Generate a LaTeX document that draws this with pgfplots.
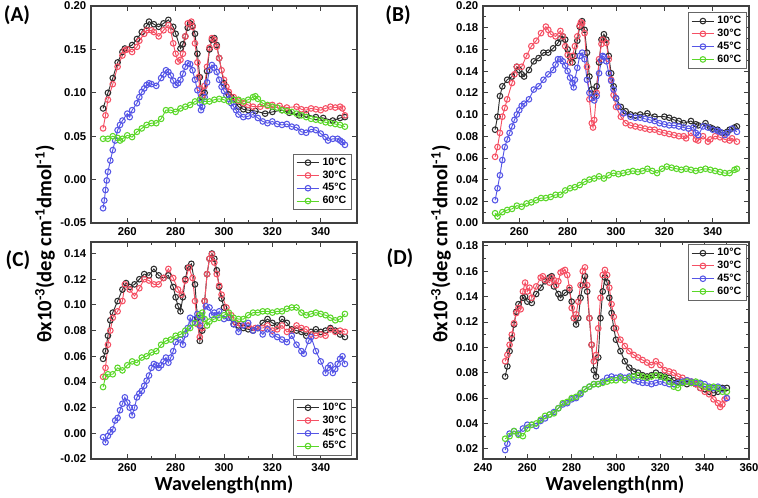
\documentclass[border=0pt]{standalone}
\usepackage{fontspec}
\setmainfont{Liberation Sans}
\newfontfamily\carlito{Carlito}
\usepackage{pgfplots}
\pgfplotsset{compat=1.18}
\definecolor{cK}{RGB}{45,45,45}
\definecolor{cR}{RGB}{245,80,100}
\definecolor{cB}{RGB}{85,85,230}
\definecolor{cG}{RGB}{90,215,40}
\pgfplotsset{
  panel/.style={
    scale only axis, width=199.5pt, height=162.75pt, anchor=south west,
    axis line style={draw=black!75, line width=0.8pt},
    tick style={black!75, line width=0.6pt},
    tick align=inside, tick pos=both,
    major tick length=3.5pt, minor tick length=2pt,
    minor x tick num=1, minor y tick num=1,
    ticklabel style={font=\fontsize{8.5}{10}\selectfont\bfseries},
    /pgf/number format/assume math mode=true,
    scaled y ticks=false,
    y tick label style={/pgf/number format/fixed, /pgf/number format/fixed zerofill, /pgf/number format/precision=2},
    xmin=245, xmax=355, xtick={260,280,...,340},
    legend style={draw=black!60, fill=white, font=\fontsize{8}{9}\selectfont\bfseries,
      inner xsep=2pt, inner ysep=1pt, row sep=-1.5pt, cells={anchor=west}},
    every axis plot/.append style={line width=0.7pt, mark=o, mark size=2.1pt, mark options={line width=0.8pt, solid}},
  }
}
\begin{document}
\begin{tikzpicture}
\path[use as bounding box] (0,0) rectangle (568.5pt,372.75pt);
% ---------------- (A)
\begin{axis}[panel, at={(68.25pt,205.5pt)}, ymin=-0.05, ymax=0.20, ytick={-0.05,0,0.05,...,0.21},
  legend style={at={(0.981,0.06)}, anchor=south east}]
\addplot[cK] coordinates {(250,0.082)(252,0.100)(254,0.117)(256,0.135)(258,0.147)(259,0.151)(262,0.155)(264,0.162)(266,0.170)(268,0.177)(269,0.182)(271,0.179)(273,0.176)(275,0.180)(277,0.184)(279,0.176)(280,0.168)(282,0.151)(283,0.156)(284,0.165)(285,0.175)(286,0.180)(287,0.177)(288,0.168)(289,0.145)(290,0.118)(291,0.095)(292,0.100)(293,0.125)(294,0.150)(295,0.161)(296,0.163)(297,0.155)(298,0.140)(300,0.111)(302,0.098)(303,0.095)(306,0.084)(308,0.081)(310,0.080)(313,0.079)(317,0.076)(320,0.078)(324,0.080)(327,0.077)(331,0.074)(334,0.075)(338,0.072)(341,0.071)(345,0.068)(348,0.071)(350,0.072)};
\addlegendentry{10°C}
\addplot[cR] coordinates {(250,0.059)(251,0.074)(252,0.092)(254,0.110)(256,0.130)(258,0.143)(259,0.149)(260,0.150)(262,0.147)(264,0.153)(265,0.160)(267,0.168)(268,0.172)(270,0.172)(271,0.170)(273,0.165)(275,0.172)(277,0.178)(278,0.172)(279,0.157)(280,0.145)(281,0.136)(282,0.138)(283,0.145)(284,0.165)(285,0.180)(286.5,0.182)(287,0.176)(288,0.157)(289,0.135)(289.5,0.118)(290,0.105)(291,0.097)(292,0.108)(293,0.130)(294,0.152)(295,0.163)(296,0.161)(297,0.153)(298,0.140)(299,0.126)(300,0.115)(301,0.107)(302,0.101)(304,0.095)(306,0.091)(308,0.088)(310,0.086)(312,0.084)(315,0.084)(318,0.085)(320,0.086)(323,0.085)(326,0.083)(330,0.084)(332,0.081)(334,0.080)(336,0.082)(338,0.081)(340,0.080)(342,0.082)(344,0.084)(346,0.083)(348,0.084)(349,0.082)(350,0.074)};
\addlegendentry{30°C}
\addplot[cB] coordinates {(250,-0.033)(250.5,-0.024)(251,-0.012)(251.5,-0.001)(252,0.009)(253,0.022)(254,0.034)(255,0.045)(256,0.057)(257,0.063)(258,0.068)(260,0.076)(261,0.072)(262,0.080)(264,0.088)(265,0.095)(266,0.101)(267,0.105)(268,0.109)(269,0.111)(270,0.110)(272,0.108)(274,0.117)(275,0.121)(276,0.126)(277,0.124)(278,0.120)(279,0.114)(280,0.109)(281,0.111)(282,0.115)(283,0.122)(284,0.130)(285,0.134)(286,0.133)(287,0.126)(288,0.115)(289,0.103)(290,0.088)(290.5,0.080)(291,0.084)(292,0.095)(293,0.112)(294,0.126)(295,0.132)(296,0.129)(297,0.124)(298,0.115)(299,0.107)(300,0.102)(301,0.097)(302,0.093)(303,0.088)(304,0.084)(305,0.080)(306,0.075)(308,0.072)(310,0.073)(312,0.075)(314,0.071)(316,0.067)(318,0.065)(320,0.067)(322,0.064)(324,0.063)(326,0.064)(328,0.061)(330,0.060)(332,0.055)(334,0.054)(336,0.058)(338,0.057)(340,0.053)(342,0.049)(343,0.045)(345,0.047)(347,0.047)(348,0.045)(349,0.043)(350,0.040)};
\addlegendentry{45°C}
\addplot[cG] coordinates {(250,0.047)(252,0.047)(254,0.050)(256,0.048)(257,0.045)(258,0.047)(260,0.051)(262,0.049)(264,0.055)(266,0.059)(268,0.063)(270,0.065)(272,0.065)(274,0.070)(276,0.080)(278,0.080)(280,0.078)(282,0.082)(284,0.084)(286,0.086)(288,0.090)(290,0.092)(292,0.090)(294,0.090)(296,0.092)(298,0.093)(300,0.092)(302,0.090)(304,0.092)(306,0.092)(308,0.090)(310,0.092)(312,0.095)(313,0.096)(314,0.093)(316,0.088)(318,0.086)(320,0.084)(322,0.083)(324,0.080)(326,0.079)(328,0.078)(330,0.076)(332,0.074)(334,0.072)(336,0.070)(338,0.069)(340,0.068)(342,0.066)(344,0.065)(346,0.064)(348,0.063)(350,0.061)};
\addlegendentry{60°C}
\end{axis}
% ---------------- (B)
\begin{axis}[panel, at={(362.25pt,205.5pt)}, ymin=0, ymax=0.20, ytick={0,0.02,...,0.21},
  legend style={at={(0.992,0.972)}, anchor=north east}]
\addplot[cK] coordinates {(250,0.086)(251,0.098)(252,0.117)(253,0.126)(255,0.132)(257,0.135)(259,0.144)(260,0.141)(261,0.137)(262,0.135)(264,0.141)(266,0.149)(268,0.152)(270,0.157)(272,0.157)(274,0.161)(276,0.166)(277,0.170)(278,0.172)(279,0.169)(280,0.160)(281,0.153)(282,0.148)(283,0.154)(284,0.168)(285,0.181)(286,0.186)(287,0.178)(288,0.157)(289,0.135)(290,0.123)(291,0.117)(292,0.126)(293,0.148)(294,0.169)(295,0.174)(296,0.169)(297,0.154)(298,0.138)(299,0.126)(300,0.115)(302,0.107)(304,0.103)(306,0.100)(308,0.099)(310,0.100)(313,0.101)(316,0.098)(320,0.098)(322,0.097)(324,0.095)(326,0.094)(328,0.092)(331,0.094)(333,0.091)(334,0.090)(337,0.092)(339,0.088)(340,0.087)(342,0.086)(344,0.083)(346,0.084)(347,0.086)(349,0.088)(350,0.089)};
\addlegendentry{10°C}
\addplot[cR] coordinates {(250,0.061)(251,0.070)(252,0.083)(253,0.098)(254,0.106)(255,0.114)(257,0.129)(258,0.137)(259,0.144)(261,0.144)(263,0.154)(265,0.163)(267,0.168)(269,0.175)(271,0.181)(272,0.178)(273,0.174)(275,0.172)(277,0.177)(278,0.172)(279,0.163)(280,0.155)(281,0.148)(282,0.154)(283,0.163)(284,0.172)(285,0.182)(285.5,0.185)(286,0.184)(287,0.175)(288,0.144)(289,0.114)(290,0.092)(290.5,0.088)(291,0.095)(292,0.120)(293,0.151)(294,0.165)(294.5,0.169)(296,0.166)(297,0.151)(298,0.132)(299,0.118)(300,0.107)(302,0.098)(304,0.092)(306,0.090)(308,0.089)(310,0.088)(312,0.087)(314,0.086)(316,0.086)(318,0.084)(320,0.083)(322,0.082)(324,0.081)(326,0.080)(328,0.080)(329,0.078)(331,0.083)(333,0.077)(334,0.076)(336,0.080)(338,0.075)(339,0.077)(341,0.080)(343,0.079)(345,0.077)(347,0.076)(348,0.078)(350,0.075)};
\addlegendentry{30°C}
\addplot[cB] coordinates {(250,0.021)(251,0.032)(252,0.044)(253,0.058)(254,0.070)(255,0.077)(256,0.083)(257,0.089)(258,0.095)(259,0.100)(260,0.104)(261,0.108)(262,0.110)(264,0.114)(266,0.123)(268,0.126)(270,0.132)(272,0.137)(274,0.141)(275,0.146)(276,0.151)(277,0.151)(278,0.149)(279,0.145)(280,0.140)(281,0.134)(282,0.129)(282.5,0.125)(283,0.132)(284,0.143)(285,0.154)(286,0.157)(287,0.151)(288,0.132)(289,0.120)(290,0.115)(291,0.113)(292,0.117)(293,0.138)(294,0.150)(294.5,0.154)(295,0.153)(296,0.149)(297,0.138)(298,0.131)(299,0.123)(300,0.115)(301,0.107)(303,0.101)(306,0.098)(308,0.097)(310,0.097)(312,0.096)(314,0.095)(316,0.094)(318,0.092)(320,0.091)(322,0.090)(324,0.090)(326,0.089)(328,0.088)(330,0.087)(332,0.088)(333,0.083)(334,0.081)(336,0.089)(338,0.088)(340,0.086)(342,0.085)(343,0.084)(345,0.081)(346,0.083)(348,0.087)(350,0.084)};
\addlegendentry{45°C}
\addplot[cG] coordinates {(250,0.009)(251,0.006)(253,0.010)(255,0.012)(257,0.013)(259,0.016)(261,0.015)(263,0.018)(265,0.019)(267,0.021)(269,0.023)(271,0.023)(273,0.024)(275,0.026)(277,0.026)(279,0.030)(281,0.032)(283,0.033)(285,0.035)(287,0.038)(289,0.040)(291,0.041)(293,0.043)(295,0.041)(297,0.044)(299,0.046)(301,0.045)(303,0.046)(305,0.047)(307,0.048)(309,0.047)(311,0.048)(313,0.050)(315,0.048)(317,0.046)(319,0.050)(321,0.052)(323,0.051)(325,0.050)(327,0.049)(329,0.050)(331,0.049)(333,0.048)(335,0.049)(337,0.050)(339,0.049)(341,0.048)(343,0.047)(345,0.046)(347,0.046)(349,0.049)(350,0.050)};
\addlegendentry{60°C}
\end{axis}
% ---------------- (C)
\begin{axis}[panel, at={(68.25pt,28.5pt)}, ymin=-0.02, ymax=0.149, ytick={-0.02,0,0.02,...,0.141},
  legend style={at={(0.981,0.018)}, anchor=south east}]
\addplot[cK] coordinates {(250,0.058)(251,0.064)(252,0.076)(253,0.088)(254,0.094)(256,0.103)(258,0.112)(259.5,0.117)(261,0.114)(263,0.116)(265,0.120)(267,0.124)(269,0.123)(271,0.128)(273,0.123)(275,0.121)(277,0.123)(279,0.114)(280,0.106)(281,0.099)(282,0.095)(283,0.106)(284,0.120)(285,0.129)(286.5,0.132)(288,0.116)(289,0.090)(290,0.072)(291,0.080)(292,0.103)(293,0.124)(294,0.136)(295,0.140)(296,0.136)(297,0.127)(298,0.114)(299,0.105)(300,0.098)(302,0.090)(304,0.085)(306,0.084)(308,0.082)(310,0.081)(312,0.080)(314,0.082)(316,0.086)(318,0.089)(320,0.086)(322,0.084)(324,0.089)(326,0.086)(328,0.081)(330,0.080)(332,0.079)(334,0.076)(336,0.079)(338,0.081)(340,0.079)(342,0.080)(344,0.082)(346,0.080)(348,0.077)(350,0.075)};
\addlegendentry{10°C}
\addplot[cR] coordinates {(250,0.044)(251,0.051)(252,0.069)(253,0.080)(254,0.090)(256,0.095)(258,0.103)(259,0.116)(261,0.112)(263,0.107)(265,0.113)(267,0.120)(269,0.119)(271,0.116)(273,0.116)(275,0.121)(277,0.128)(279,0.121)(281,0.112)(282.5,0.108)(284,0.119)(285.5,0.129)(287,0.121)(288,0.103)(289,0.085)(290,0.075)(291,0.082)(292,0.103)(293,0.124)(294,0.136)(295,0.1395)(296,0.133)(297,0.124)(298,0.115)(299,0.108)(301,0.098)(303,0.092)(305,0.086)(307,0.085)(310,0.084)(313,0.082)(316,0.082)(318,0.084)(320,0.080)(322,0.081)(324,0.084)(326,0.079)(328,0.080)(330,0.084)(332,0.082)(334,0.081)(336,0.077)(338,0.076)(340,0.077)(342,0.076)(344,0.081)(346,0.079)(348,0.080)(350,0.079)};
\addlegendentry{30°C}
\addplot[cB] coordinates {(250,-0.003)(251,-0.007)(252,-0.002)(253,0.001)(254,0.003)(255,0.010)(256,0.012)(257,0.018)(258,0.023)(259,0.028)(260,0.024)(261,0.020)(262,0.014)(263,0.020)(264,0.028)(265,0.031)(266,0.033)(267,0.037)(268,0.041)(269,0.045)(270,0.051)(271,0.054)(272,0.053)(273,0.051)(274,0.053)(275,0.056)(276,0.059)(277,0.055)(278,0.059)(279,0.064)(280,0.071)(282,0.073)(283,0.069)(284,0.077)(285,0.082)(286,0.090)(287,0.086)(288,0.089)(289,0.093)(290,0.084)(291,0.090)(292.5,0.099)(294,0.098)(295,0.092)(296,0.094)(297,0.092)(298,0.095)(300,0.089)(302,0.090)(304,0.085)(306,0.079)(308,0.084)(310,0.086)(312,0.080)(314,0.082)(316,0.077)(318,0.081)(320,0.077)(322,0.075)(324,0.073)(326,0.071)(328,0.076)(330,0.069)(332,0.064)(333,0.062)(335,0.072)(336,0.075)(338,0.064)(340,0.056)(342,0.047)(343,0.051)(344,0.053)(345,0.047)(346,0.050)(347,0.054)(348,0.058)(349,0.060)(350,0.054)};
\addlegendentry{45°C}
\addplot[cG] coordinates {(250,0.036)(251,0.044)(252,0.046)(254,0.046)(256,0.051)(258,0.049)(260,0.053)(262,0.056)(264,0.055)(266,0.059)(268,0.060)(270,0.063)(272,0.064)(274,0.069)(276,0.072)(278,0.073)(280,0.076)(282,0.077)(284,0.080)(286,0.082)(288,0.086)(290,0.092)(291,0.094)(292,0.089)(293,0.084)(294,0.087)(296,0.089)(298,0.090)(300,0.092)(302,0.094)(304,0.090)(306,0.089)(308,0.089)(310,0.092)(312,0.094)(314,0.094)(316,0.095)(318,0.095)(320,0.094)(322,0.095)(324,0.095)(326,0.097)(328,0.098)(330,0.098)(332,0.094)(334,0.092)(336,0.093)(338,0.094)(340,0.093)(342,0.092)(344,0.090)(346,0.088)(348,0.089)(350,0.093)};
\addlegendentry{65°C}
\end{axis}
% ---------------- (D)
\begin{axis}[panel, at={(362.25pt,28.5pt)}, xmin=240, xmax=360, xtick={240,260,...,360},
  ymin=0.012, ymax=0.183, ytick={0.02,0.04,...,0.181},
  legend style={at={(0.992,0.99)}, anchor=north east}]
\addplot[cK] coordinates {(250,0.077)(251,0.085)(252,0.097)(253,0.107)(254,0.118)(255,0.128)(256,0.134)(258,0.139)(259,0.140)(260,0.136)(262,0.135)(264,0.142)(266,0.147)(268,0.152)(270,0.155)(271,0.156)(272,0.148)(274,0.142)(275,0.139)(277,0.143)(279,0.145)(280,0.136)(281,0.123)(282,0.118)(283,0.123)(284,0.139)(285,0.149)(286,0.156)(287,0.144)(288,0.123)(289,0.102)(290,0.082)(291,0.077)(292,0.092)(293,0.123)(294,0.144)(295,0.155)(296,0.151)(297,0.139)(298,0.127)(299,0.115)(300,0.106)(302,0.097)(304,0.089)(306,0.084)(308,0.081)(310,0.080)(312,0.078)(314,0.077)(316,0.078)(318,0.080)(320,0.078)(322,0.077)(324,0.076)(326,0.074)(328,0.073)(330,0.072)(332,0.071)(334,0.072)(336,0.071)(338,0.068)(340,0.067)(342,0.065)(344,0.064)(346,0.065)(348,0.068)(350,0.068)};
\addlegendentry{10°C}
\addplot[cR] coordinates {(250,0.089)(251,0.094)(252,0.102)(253,0.110)(254,0.119)(255,0.127)(256,0.131)(257,0.130)(258,0.144)(259,0.151)(260,0.144)(261,0.147)(262,0.139)(264,0.148)(266,0.155)(267,0.156)(268,0.153)(270,0.151)(271,0.155)(272,0.153)(273,0.149)(274,0.152)(275,0.159)(276,0.160)(277,0.161)(278,0.157)(279,0.147)(280,0.131)(281,0.123)(282,0.126)(283,0.136)(284,0.149)(285,0.160)(286,0.163)(287,0.149)(288,0.123)(289,0.102)(290,0.089)(291,0.094)(292,0.115)(293,0.139)(294,0.157)(295,0.161)(296,0.157)(297,0.147)(298,0.134)(299,0.124)(300,0.115)(302,0.106)(304,0.101)(306,0.097)(308,0.094)(310,0.092)(312,0.090)(314,0.088)(316,0.086)(318,0.089)(320,0.086)(322,0.082)(324,0.081)(326,0.080)(328,0.077)(330,0.076)(332,0.074)(334,0.073)(336,0.071)(338,0.068)(340,0.065)(342,0.063)(344,0.059)(346,0.056)(347,0.053)(348,0.055)(349,0.059)(350,0.060)};
\addlegendentry{30°C}
\addplot[cB] coordinates {(250,0.019)(251,0.024)(252,0.032)(254,0.034)(256,0.032)(258,0.036)(260,0.039)(262,0.039)(264,0.038)(266,0.042)(268,0.044)(270,0.047)(272,0.049)(274,0.052)(276,0.055)(278,0.056)(280,0.059)(282,0.060)(284,0.063)(286,0.067)(288,0.069)(290,0.071)(292,0.071)(294,0.073)(296,0.076)(298,0.077)(300,0.076)(302,0.077)(304,0.076)(306,0.077)(308,0.074)(310,0.073)(312,0.072)(314,0.072)(316,0.071)(318,0.072)(320,0.073)(322,0.072)(324,0.071)(326,0.071)(328,0.072)(330,0.073)(332,0.074)(334,0.073)(336,0.072)(338,0.072)(340,0.071)(342,0.069)(344,0.068)(346,0.069)(348,0.067)(350,0.060)};
\addlegendentry{45°C}
\addplot[cG] coordinates {(250,0.028)(252,0.030)(254,0.034)(256,0.031)(258,0.030)(260,0.036)(262,0.039)(264,0.040)(266,0.043)(268,0.046)(270,0.047)(272,0.048)(274,0.052)(276,0.056)(278,0.057)(280,0.060)(282,0.061)(284,0.064)(286,0.067)(288,0.069)(290,0.071)(292,0.071)(294,0.072)(296,0.073)(298,0.074)(300,0.074)(302,0.076)(304,0.074)(306,0.076)(308,0.077)(310,0.078)(312,0.077)(314,0.076)(316,0.077)(318,0.078)(320,0.077)(322,0.076)(324,0.073)(326,0.069)(328,0.068)(330,0.072)(332,0.073)(334,0.072)(336,0.073)(338,0.071)(340,0.069)(342,0.068)(344,0.069)(346,0.068)(348,0.065)(350,0.065)};
\addlegendentry{60°C}
\end{axis}
% ---------------- labels
\node[font=\carlito\bfseries\fontsize{16}{18}\selectfont] at (12.75pt,361.5pt) {(A)};
\node[font=\carlito\bfseries\fontsize{16}{18}\selectfont] at (298.5pt,361.5pt) {(B)};
\node[font=\carlito\bfseries\fontsize{16}{18}\selectfont] at (13.5pt,177.75pt) {(C)};
\node[font=\carlito\bfseries\fontsize{16}{18}\selectfont] at (300pt,179.25pt) {(D)};
\node[rotate=90, font=\carlito\bfseries\fontsize{15.5}{17}\selectfont] at (33.75pt,189.75pt) {θx10\textsuperscript{-3}(deg cm\textsuperscript{-1}dmol\textsuperscript{-1})};
\node[rotate=90, font=\carlito\bfseries\fontsize{15.5}{17}\selectfont] at (330.75pt,189.75pt) {θx10\textsuperscript{-3}(deg cm\textsuperscript{-1}dmol\textsuperscript{-1})};
\node[font=\carlito\bfseries\fontsize{15}{17}\selectfont, inner sep=0pt] at (168pt,9pt) {Wavelength(nm)};
\node[font=\carlito\bfseries\fontsize{15}{17}\selectfont, inner sep=0pt] at (461.25pt,9pt) {Wavelength(nm)};
\end{tikzpicture}
\end{document}
